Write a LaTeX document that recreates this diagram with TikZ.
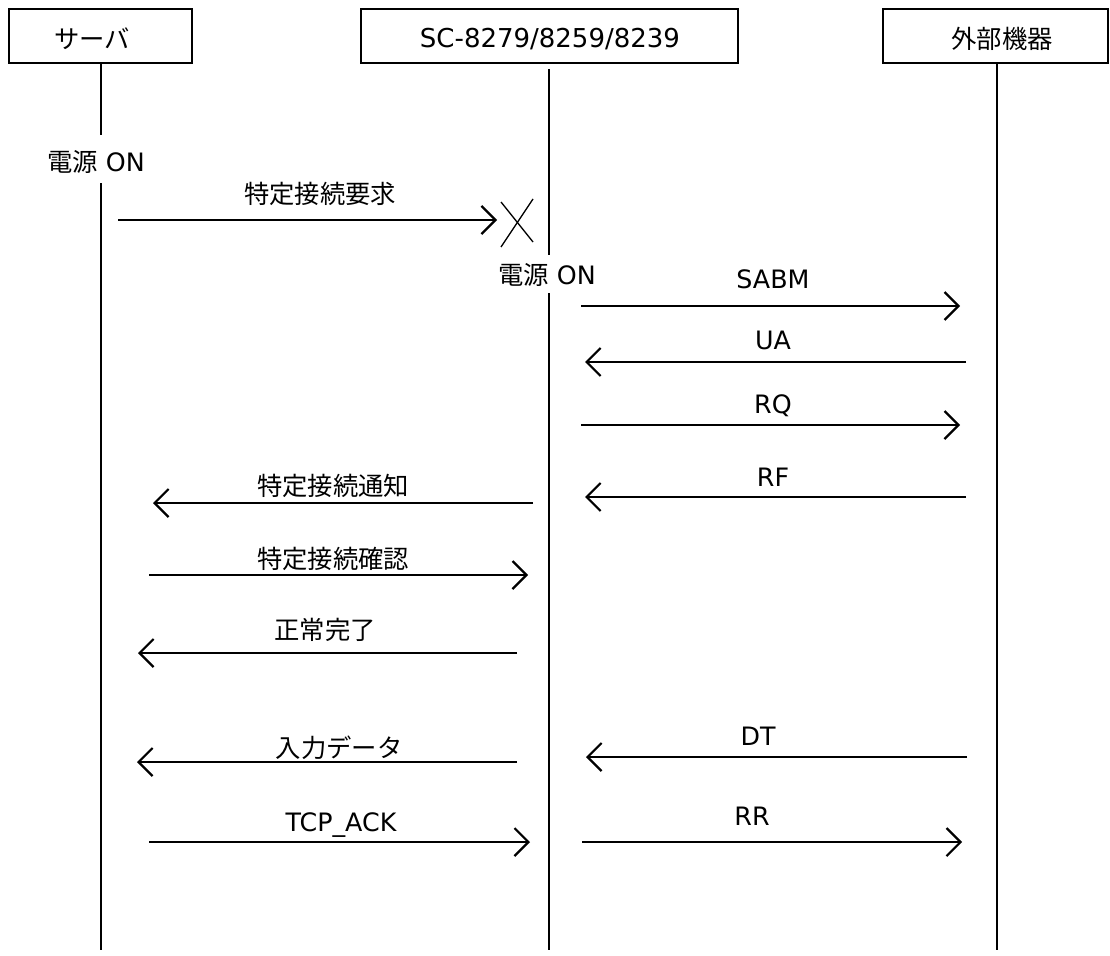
\documentclass[tikz,border=0pt]{standalone}
\usepackage{fontspec}
\setmainfont{DejaVu Sans}
\newfontfamily\jpfont{Noto Sans CJK JP}
\newcommand\JP[1]{{\jpfont #1}}
\usetikzlibrary{arrows.meta}
\begin{document}
\begin{tikzpicture}[x=0.75pt,y=-0.75pt,
  actor/.style={draw,line width=1.5pt,minimum height=40.5pt,inner sep=0pt},
  txt/.style={inner sep=0pt,text height=13.6pt,text depth=0pt,font=\fontsize{19}{23}\selectfont},
  lifeline/.style={line width=2.1pt},
  msg/.style={line width=1.6pt,-{Straight Barb[length=10.5pt,width=21pt,line width=1.6pt]}},
  cross/.style={line width=1pt}]
\useasboundingbox (0,0) rectangle (1110,956);
% actors
\node[actor,minimum width=137.25pt] (srv) at (100.5,36) {};
\node[txt] (srvT) at (92,39) {\JP{サーバ}};
\node[actor,minimum width=282.75pt] (sc) at (549.5,36) {};
\node[txt,font=\fontsize{19.5}{23}\selectfont] (scT) at (550,38) {SC-8279/8259/8239};
\node[actor,minimum width=168.75pt] (ext) at (995.5,36) {};
\node[txt] (extT) at (1002,39) {\JP{外部機器}};
% lifeline coordinates
\coordinate (srvA) at (101,135);
\coordinate (srvB) at (101,183);
\coordinate (srvEnd) at (101,950);
\coordinate (scTop) at (549,69);
\coordinate (scA) at (549,255);
\coordinate (scB) at (549,293);
\coordinate (scEnd) at (549,950);
\coordinate (extEnd) at (997,950);
% power on labels
\node[txt] (on1) at (96,162) {\JP{電源} ON};
\node[txt] (on2) at (547,275) {\JP{電源} ON};
% lifelines
\draw[lifeline] (srvA |- srv.south) -- (srvA);
\draw[lifeline] (srvB) -- (srvEnd);
\draw[lifeline] (scTop) -- (scA);
\draw[lifeline] (scB) -- (scEnd);
\draw[lifeline] (extEnd |- ext.south) -- (extEnd);
% messages
\draw[msg] (118,220) coordinate (m1s) -- (497,220) coordinate (m1e);
\node[txt] (l1) at (320,194) {\JP{特定接続要求}};
\draw[cross] (501,202) coordinate (x1a) -- (533,242) coordinate (x1b);
\draw[cross] (533,199) coordinate (x2a) -- (501,247) coordinate (x2b);

\draw[msg] (581,306) coordinate (m2s) -- (960,306) coordinate (m2e);
\node[txt] (l2) at (773,279) {SABM};
\draw[msg] (966,362) coordinate (m3s) -- (585,362) coordinate (m3e);
\node[txt] (l3) at (773,340) {UA};
\draw[msg] (581,425) coordinate (m4s) -- (960,425) coordinate (m4e);
\node[txt] (l4) at (773,404) {RQ};
\draw[msg] (966,497) coordinate (m5s) -- (585,497) coordinate (m5e);
\node[txt] (l5) at (773,477) {RF};

\draw[msg] (533,503) coordinate (m6s) -- (153,503) coordinate (m6e);
\node[txt] (l6) at (333,486) {\JP{特定接続通知}};
\draw[msg] (149,575) coordinate (m7s) -- (528,575) coordinate (m7e);
\node[txt] (l7) at (333,559) {\JP{特定接続確認}};
\draw[msg] (517,653) coordinate (m8s) -- (138,653) coordinate (m8e);
\node[txt] (l8) at (325,630) {\JP{正常完了}};

\draw[msg] (517,762) coordinate (m9s) -- (137,762) coordinate (m9e);
\node[txt] (l9) at (339,748) {\JP{入力データ}};
\draw[msg] (967,757) coordinate (m10s) -- (586,757) coordinate (m10e);
\node[txt] (l10) at (758,736) {DT};
\draw[msg] (149,842) coordinate (m11s) -- (530,842) coordinate (m11e);
\node[txt] (l11) at (341,822) {TCP\_ACK};
\draw[msg] (582,842) coordinate (m12s) -- (962,842) coordinate (m12e);
\node[txt] (l12) at (752,816) {RR};
\end{tikzpicture}
\end{document}
